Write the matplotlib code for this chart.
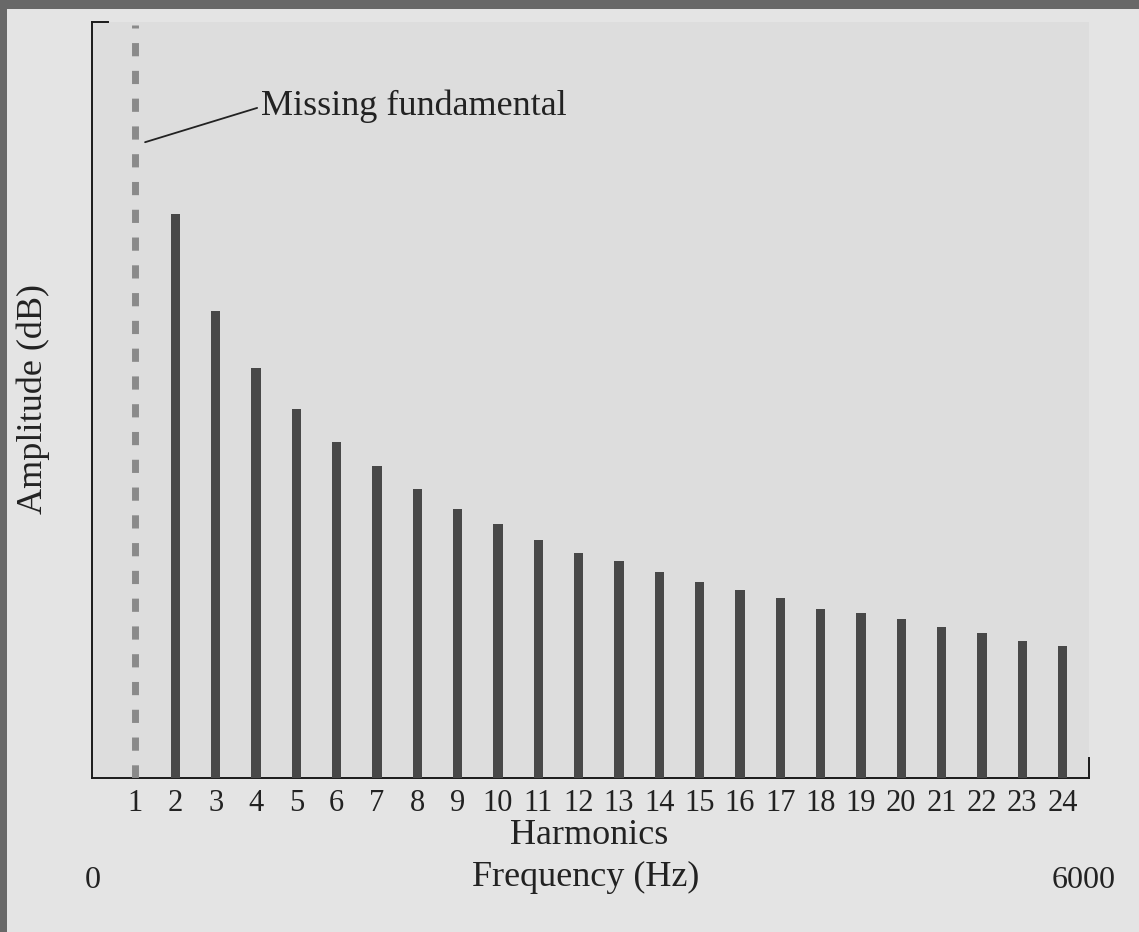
import matplotlib
matplotlib.use("Agg")
import matplotlib.pyplot as plt
from matplotlib.patches import Rectangle

plt.rcParams['font.family'] = ['Liberation Serif', 'DejaVu Serif']
plt.rcParams['lines.scale_dashes'] = False

# ---- data (amplitude in arbitrary dB units, axis top = 100)
harmonics = list(range(2, 25))
amplitudes = [74.6, 61.8, 54.2, 48.8, 44.4, 41.3, 38.2, 35.6, 33.6, 31.5, 29.8,
              28.7, 27.2, 25.9, 24.9, 23.8, 22.4, 21.8, 21.0, 20.0, 19.2, 18.1, 17.5]
missing_harmonic = 1
tick_positions = list(range(1, 25))
tick_labels = [str(i) for i in tick_positions]
freq_min_label = "0"
freq_max_label = "6000"

W, H = 1139, 932
fig = plt.figure(figsize=(W / 100, H / 100), dpi=100)
fig.patch.set_facecolor('#686868')
fig.patches.append(Rectangle((7 / W, 0), 1 - 7 / W, 1 - 9 / H, transform=fig.transFigure,
                             facecolor='#e4e4e4', edgecolor='none', zorder=-5))

ax_left, ax_right, ax_top, ax_bottom = 92, 1089, 22, 778
ax = fig.add_axes([ax_left / W, 1 - ax_bottom / H, (ax_right - ax_left) / W, (ax_bottom - ax_top) / H])
ax.set_facecolor('#dddddd')

spacing = 40.33
ax.set_xlim(1 - (135 - ax_left) / spacing, 1 + (ax_right - 135) / spacing)
ax.set_ylim(0, 100)

ax.bar(harmonics, amplitudes, width=0.23, color='#484848', zorder=3)
ax.vlines(missing_harmonic, 0, 99.6, colors='#8a8a8a', linewidth=5.0,
          linestyles=[(0, (9.5, 10.5))], zorder=3)

for s in ['top', 'right']:
    ax.spines[s].set_visible(False)
for s in ['left', 'bottom']:
    ax.spines[s].set_linewidth(1.4)
    ax.spines[s].set_color('#1a1a1a')

# small end ticks of the frame
ax.plot([0, 0.016], [1, 1], transform=ax.transAxes, color='#1a1a1a', lw=1.4, clip_on=False)
ax.plot([1, 1], [0, 0.027], transform=ax.transAxes, color='#1a1a1a', lw=1.4, clip_on=False)

ax.set_yticks([])
ax.set_xticks(tick_positions)
ax.set_xticklabels(tick_labels, fontsize=22, color='#222222')
ax.tick_params(axis='x', length=0, pad=8)

ax.annotate('Missing fundamental', xy=(1.25, 84.1), xytext=(4.13, 88.8),
            fontsize=26, color='#222222', ha='left', va='center',
            arrowprops=dict(arrowstyle='-', color='#222222', lw=1.3,
                            relpos=(0, 0.5), shrinkA=1, shrinkB=0))

fig.text(589 / W, 1 - 835 / H, 'Harmonics', fontsize=26, color='#222222', ha='center', va='center')
fig.text(586 / W, 1 - 877 / H, 'Frequency (Hz)', fontsize=26, color='#222222', ha='center', va='center')
fig.text(93 / W, 1 - 880 / H, freq_min_label, fontsize=23, color='#222222', ha='center', va='center')
fig.text(1084 / W, 1 - 880 / H, freq_max_label, fontsize=23, color='#222222', ha='center', va='center')
fig.text(33 / W, 1 - 399 / H, 'Amplitude (dB)', fontsize=26, color='#222222', ha='center', va='center',
         rotation=90)

fig.savefig('out.png', dpi=100, facecolor=fig.get_facecolor())
